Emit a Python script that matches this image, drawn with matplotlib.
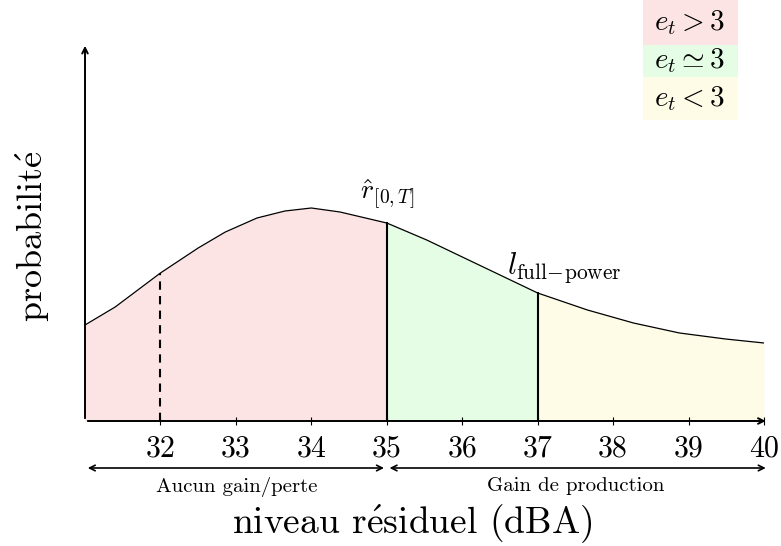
import numpy as np
import matplotlib
matplotlib.use("Agg")
import matplotlib.pyplot as plt

plt.rcParams['font.family'] = ['cmr10', 'DejaVu Serif']
plt.rcParams['mathtext.fontset'] = 'cm'
plt.rcParams['axes.unicode_minus'] = False

# density curve (arbitrary height units)
niveau = [31.0, 31.4, 32.0, 32.5, 32.86, 33.28, 33.65, 34.0, 34.38, 35.0,
          35.53, 36.14, 37.0, 37.66, 38.27, 38.88, 39.49, 40.0]
densite = [96, 114, 148, 173, 189, 203, 210, 213, 209, 198,
           181, 159, 128, 111, 98, 88, 82, 78]
ticks = [32, 33, 34, 35, 36, 37, 38, 39, 40]

# zones: (start, end, colour)
zones = [(31, 35, '#fde4e4'), (35, 37, '#e4fde4'), (37, 40, '#fefbe7')]
legend_txt = [r'$e_t > 3$', r'$e_t \simeq 3$', r'$e_t < 3$']

x = np.array(niveau, dtype=float)
y = np.array(densite, dtype=float)

W, H = 781, 546
fig = plt.figure(figsize=(W / 100, H / 100), dpi=100)
ax = fig.add_axes([85 / W, (H - 421) / H, (764 - 85) / W, (421 - 45) / H])
ax.set_xlim(31, 40)
ax.set_ylim(0, 376)
for s in ax.spines.values():
    s.set_visible(False)

for a, b, c in zones:
    m = (x >= a) & (x <= b)
    ax.fill_between(x[m], 0, y[m], color=c, lw=0)

ax.plot(x, y, color='black', lw=0.9)

# vertical markers
ax.plot([32, 32], [0, np.interp(32, x, y)], 'k--', lw=1.5, dashes=(4, 3))
ax.plot([35, 35], [0, np.interp(35, x, y)], 'k-', lw=1.5)
ax.plot([37, 37], [0, np.interp(37, x, y)], 'k-', lw=1.5)

# axes with arrows
ax.annotate('', xy=(40.06, 0), xytext=(31, 0),
            arrowprops=dict(arrowstyle='->', lw=1.4, color='black'),
            annotation_clip=False)
ax.annotate('', xy=(31, 378), xytext=(31, 0),
            arrowprops=dict(arrowstyle='->', lw=1.4, color='black'),
            annotation_clip=False)

ax.set_xticks(ticks)
ax.set_xticklabels([str(t) for t in ticks], fontsize=21.5)
ax.tick_params(axis='x', direction='inout', length=6, width=0.8, pad=7)
ax.set_yticks([])

ax.text(35, np.interp(35, x, y) + 12, r'$\hat{r}_{[0,T]}$', fontsize=20,
        ha='center', va='bottom')
ax.text(36.6, 136, r'$l_{\mathrm{full\!-\!power}}$', fontsize=22,
        ha='left', va='bottom')

# range arrows below the axis
ax.annotate('', xy=(31, -47), xytext=(35, -47),
            arrowprops=dict(arrowstyle='<->', lw=1.2, color='black'),
            annotation_clip=False)
ax.annotate('', xy=(35, -47), xytext=(40.06, -47),
            arrowprops=dict(arrowstyle='<->', lw=1.2, color='black'),
            annotation_clip=False)
fig.text(237 / W, 1 - 492 / H, 'Aucun gain/perte', fontsize=15,
         ha='center', va='baseline')
fig.text(576 / W, 1 - 491 / H, 'Gain de production', fontsize=15,
         ha='center', va='baseline')

fig.text(412 / W, 1 - 533 / H, r'niveau r$\acute{\mathrm{e}}$siduel (dBA)',
         fontsize=27, ha='center', va='baseline')
fig.text(33 / W, 1 - 236 / H, r'probabilit$\acute{\mathrm{e}}$', fontsize=26,
         ha='center', va='center', rotation=90)

# legend boxes top right
boxes = [(0, 45), (45, 77), (77, 120)]
for (top, bot), (a, b, c), t in zip(boxes, zones, legend_txt):
    fig.patches.append(plt.Rectangle((643 / W, 1 - bot / H), 95 / W, (bot - top) / H,
                                     transform=fig.transFigure, color=c, lw=0))
    fig.text(690 / W, 1 - (top + bot) / 2 / H, t, fontsize=21,
             ha='center', va='center')

fig.savefig('out.png', dpi=100)
